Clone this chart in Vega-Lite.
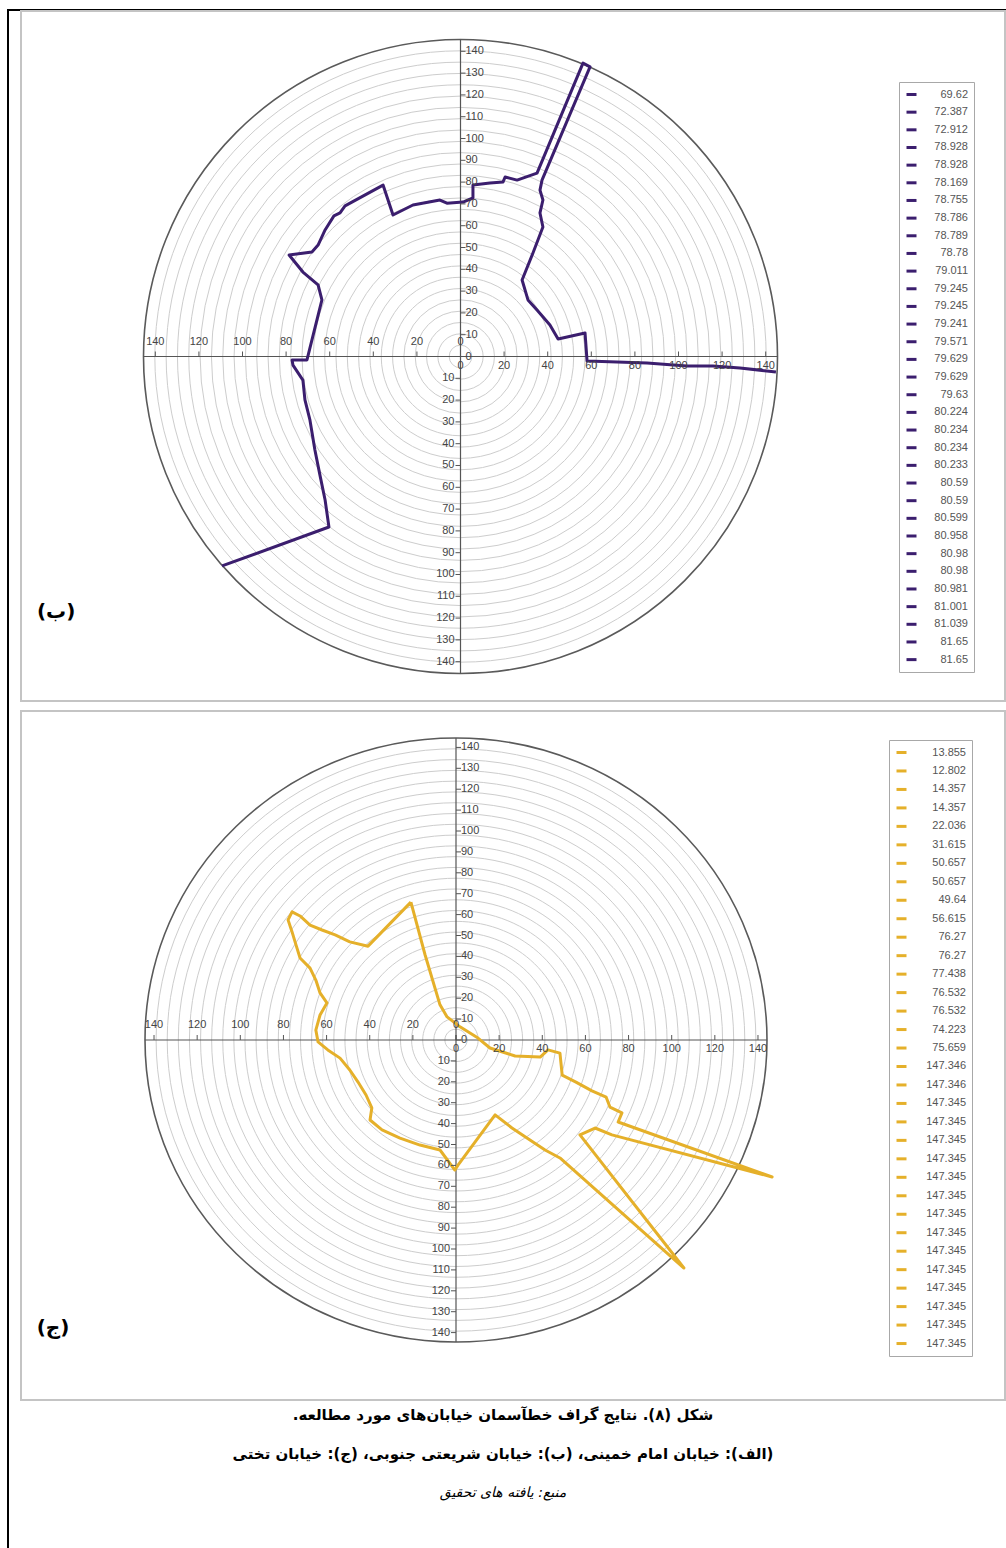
{
  "$schema": "https://vega.github.io/schema/vega-lite/v6.json",
  "padding": {"left": 7, "top": 9, "right": 0, "bottom": 0},
  "background": "#ffffff",
  "bounds": "flush",
  "spacing": 0,
  "config": {"view": {"stroke": null}},
  "datasets": {
    "rings": [{"r":5},{"r":10},{"r":15},{"r":20},{"r":25},{"r":30},{"r":35},{"r":40},{"r":45},{"r":50},{"r":55},{"r":60},{"r":65},{"r":70},{"r":75},{"r":80},{"r":85},{"r":90},{"r":95},{"r":100},{"r":105},{"r":110},{"r":115},{"r":120},{"r":125},{"r":130},{"r":135},{"r":140}],
    "labels": [
      {"g":"hl","v":-140,"t":"140"},{"g":"hl","v":-120,"t":"120"},{"g":"hl","v":-100,"t":"100"},{"g":"hl","v":-80,"t":"80"},{"g":"hl","v":-60,"t":"60"},{"g":"hl","v":-40,"t":"40"},{"g":"hl","v":-20,"t":"20"},{"g":"hl","v":0,"t":"0"},
      {"g":"hr","v":0,"t":"0"},{"g":"hr","v":20,"t":"20"},{"g":"hr","v":40,"t":"40"},{"g":"hr","v":60,"t":"60"},{"g":"hr","v":80,"t":"80"},{"g":"hr","v":100,"t":"100"},{"g":"hr","v":120,"t":"120"},{"g":"hr","v":140,"t":"140"},
      {"g":"vu","v":0,"t":"0"},{"g":"vu","v":10,"t":"10"},{"g":"vu","v":20,"t":"20"},{"g":"vu","v":30,"t":"30"},{"g":"vu","v":40,"t":"40"},{"g":"vu","v":50,"t":"50"},{"g":"vu","v":60,"t":"60"},{"g":"vu","v":70,"t":"70"},{"g":"vu","v":80,"t":"80"},{"g":"vu","v":90,"t":"90"},{"g":"vu","v":100,"t":"100"},{"g":"vu","v":110,"t":"110"},{"g":"vu","v":120,"t":"120"},{"g":"vu","v":130,"t":"130"},{"g":"vu","v":140,"t":"140"},
      {"g":"vl","v":-10,"t":"10"},{"g":"vl","v":-20,"t":"20"},{"g":"vl","v":-30,"t":"30"},{"g":"vl","v":-40,"t":"40"},{"g":"vl","v":-50,"t":"50"},{"g":"vl","v":-60,"t":"60"},{"g":"vl","v":-70,"t":"70"},{"g":"vl","v":-80,"t":"80"},{"g":"vl","v":-90,"t":"90"},{"g":"vl","v":-100,"t":"100"},{"g":"vl","v":-110,"t":"110"},{"g":"vl","v":-120,"t":"120"},{"g":"vl","v":-130,"t":"130"},{"g":"vl","v":-140,"t":"140"}
    ],
    "axes": [{"x1":-140,"x2":140,"y1":0,"y2":0},{"x1":0,"x2":0,"y1":-140,"y2":140}],
    "topLine": [
      {"i":1,"x":139.3,"y":-6.8},{"i":2,"x":123.4,"y":-5.1},{"i":3,"x":111.5,"y":-4.2},{"i":4,"x":100.0,"y":-4.2},{"i":5,"x":82.4,"y":-2.9},{"i":6,"x":55.9,"y":-2.0},{"i":7,"x":55.0,"y":10.4},{"i":8,"x":43.1,"y":7.7},{"i":9,"x":39.5,"y":13.9},{"i":10,"x":33.8,"y":20.5},{"i":11,"x":29.8,"y":25.0},{"i":12,"x":27.2,"y":33.8},{"i":13,"x":32.0,"y":45.7},{"i":14,"x":36.4,"y":57.2},{"i":15,"x":35.1,"y":63.4},{"i":16,"x":36.4,"y":69.1},{"i":17,"x":35.1,"y":73.5},{"i":18,"x":36.0,"y":77.9},{"i":19,"x":57.2,"y":127.9},{"i":20,"x":54.1,"y":129.6},{"i":21,"x":33.8,"y":81.0},{"i":22,"x":25.0,"y":77.9},{"i":23,"x":19.7,"y":79.3},{"i":24,"x":18.8,"y":77.1},{"i":25,"x":13.0,"y":76.6},{"i":26,"x":5.5,"y":75.7},{"i":27,"x":5.5,"y":70.0},{"i":28,"x":1.1,"y":68.2},{"i":29,"x":-6.0,"y":67.7},{"i":30,"x":-9.1,"y":69.1},{"i":31,"x":-21.0,"y":66.9},{"i":32,"x":-29.8,"y":62.5},{"i":33,"x":-34.2,"y":75.7},{"i":34,"x":-51.0,"y":66.5},{"i":35,"x":-53.2,"y":63.4},{"i":36,"x":-55.9,"y":62.1},{"i":37,"x":-59.8,"y":55.9},{"i":38,"x":-62.9,"y":49.2},{"i":39,"x":-65.6,"y":46.2},{"i":40,"x":-75.7,"y":44.8},{"i":41,"x":-69.6,"y":37.3},{"i":42,"x":-62.9,"y":31.6},{"i":43,"x":-61.2,"y":25.0},{"i":44,"x":-67.8,"y":-1.5},{"i":45,"x":-74.4,"y":-1.5},{"i":46,"x":-74.0,"y":-3.8},{"i":47,"x":-69.6,"y":-10.4},{"i":48,"x":-68.7,"y":-19.2},{"i":49,"x":-66.5,"y":-28.0},{"i":50,"x":-64.3,"y":-41.3},{"i":51,"x":-62.1,"y":-52.3},{"i":52,"x":-59.8,"y":-63.4},{"i":53,"x":-58.1,"y":-75.3},{"i":54,"x":-105.3,"y":-92.5}
    ],
    "botLine": [
      {"i":1,"x":-20.3,"y":63.9},{"i":2,"x":-13.9,"y":39.4},{"i":3,"x":-7.2,"y":16.3},{"i":4,"x":-4.0,"y":10.7},{"i":5,"x":1.8,"y":6.1},{"i":6,"x":9.9,"y":0.9},{"i":7,"x":15.3,"y":-3.7},{"i":8,"x":26.6,"y":-7.4},{"i":9,"x":37.9,"y":-7.9},{"i":10,"x":41.4,"y":-4.6},{"i":11,"x":46.8,"y":-6.1},{"i":12,"x":47.8,"y":-16.3},{"i":13,"x":54.0,"y":-19.5},{"i":14,"x":61.2,"y":-23.6},{"i":15,"x":67.6,"y":-26.5},{"i":16,"x":69.3,"y":-31.1},{"i":17,"x":74.7,"y":-33.8},{"i":18,"x":73.0,"y":-38.0},{"i":19,"x":142.3,"y":-63.5},{"i":20,"x":70.2,"y":-44.0},{"i":21,"x":62.6,"y":-40.8},{"i":22,"x":55.8,"y":-44.0},{"i":23,"x":102.6,"y":-105.7},{"i":24,"x":46.8,"y":-54.7},{"i":25,"x":40.1,"y":-51.0},{"i":26,"x":33.3,"y":-46.4},{"i":27,"x":25.2,"y":-40.8},{"i":28,"x":17.6,"y":-34.7},{"i":29,"x":0.9,"y":-58.0},{"i":30,"x":-0.5,"y":-60.3},{"i":31,"x":-7.2,"y":-51.0},{"i":32,"x":-16.2,"y":-48.7},{"i":33,"x":-25.2,"y":-45.5},{"i":34,"x":-33.3,"y":-41.7},{"i":35,"x":-38.7,"y":-37.1},{"i":36,"x":-37.9,"y":-31.5},{"i":37,"x":-40.5,"y":-25.5},{"i":38,"x":-44.1,"y":-19.5},{"i":39,"x":-47.8,"y":-13.9},{"i":40,"x":-52.2,"y":-8.4},{"i":41,"x":-57.7,"y":-4.6},{"i":42,"x":-62.1,"y":-0.9},{"i":43,"x":-63.1,"y":4.6},{"i":44,"x":-61.2,"y":11.6},{"i":45,"x":-58.1,"y":17.2},{"i":46,"x":-61.2,"y":21.8},{"i":47,"x":-63.1,"y":27.8},{"i":48,"x":-65.7,"y":33.3},{"i":49,"x":-70.2,"y":38.0},{"i":50,"x":-72.0,"y":44.0},{"i":51,"x":-73.8,"y":50.1},{"i":52,"x":-75.6,"y":55.7},{"i":53,"x":-73.8,"y":59.4},{"i":54,"x":-70.2,"y":57.5},{"i":55,"x":-65.7,"y":53.3},{"i":56,"x":-60.3,"y":51.0},{"i":57,"x":-54.4,"y":48.7},{"i":58,"x":-47.8,"y":45.5},{"i":59,"x":-39.6,"y":43.5},{"i":60,"x":-20.3,"y":63.9}
    ],
    "topLegend": [{"k":"01|69.62"},{"k":"02|72.387"},{"k":"03|72.912"},{"k":"04|78.928"},{"k":"05|78.928"},{"k":"06|78.169"},{"k":"07|78.755"},{"k":"08|78.786"},{"k":"09|78.789"},{"k":"10|78.78"},{"k":"11|79.011"},{"k":"12|79.245"},{"k":"13|79.245"},{"k":"14|79.241"},{"k":"15|79.571"},{"k":"16|79.629"},{"k":"17|79.629"},{"k":"18|79.63"},{"k":"19|80.224"},{"k":"20|80.234"},{"k":"21|80.234"},{"k":"22|80.233"},{"k":"23|80.59"},{"k":"24|80.59"},{"k":"25|80.599"},{"k":"26|80.958"},{"k":"27|80.98"},{"k":"28|80.98"},{"k":"29|80.981"},{"k":"30|81.001"},{"k":"31|81.039"},{"k":"32|81.65"},{"k":"33|81.65"}],
    "botLegend": [{"k":"01|13.855"},{"k":"02|12.802"},{"k":"03|14.357"},{"k":"04|14.357"},{"k":"05|22.036"},{"k":"06|31.615"},{"k":"07|50.657"},{"k":"08|50.657"},{"k":"09|49.64"},{"k":"10|56.615"},{"k":"11|76.27"},{"k":"12|76.27"},{"k":"13|77.438"},{"k":"14|76.532"},{"k":"15|76.532"},{"k":"16|74.223"},{"k":"17|75.659"},{"k":"18|147.346"},{"k":"19|147.346"},{"k":"20|147.345"},{"k":"21|147.345"},{"k":"22|147.345"},{"k":"23|147.345"},{"k":"24|147.345"},{"k":"25|147.345"},{"k":"26|147.345"},{"k":"27|147.345"},{"k":"28|147.345"},{"k":"29|147.345"},{"k":"30|147.345"},{"k":"31|147.345"},{"k":"32|147.345"},{"k":"33|147.345"}]
  },
  "vconcat": [
    {"width": 999, "height": 2, "data": {"values": [{}]}, "mark": {"type": "rect", "color": "#000000"}},
    {
      "spacing": 12,
      "bounds": "flush",
      "hconcat": [
        {"width": 2, "height": 1540, "data": {"values": [{}]}, "mark": {"type": "rect", "color": "#000000"}},
        {
          "spacing": 10,
          "bounds": "flush",
          "resolve": {"scale": {"color": "independent", "size": "independent"}, "legend": {"color": "independent", "size": "independent"}},
          "vconcat": [
            {
              "width": 984, "height": 690,
              "view": {"stroke": "#c4c4c4", "strokeWidth": 2},
              "resolve": {"scale": {"x": "independent", "y": "independent"}},
              "layer": [
                {
                  "layer": [
                    {"data": {"name": "rings"}, "mark": {"type": "point", "filled": false, "opacity": 1},
                     "encoding": {
                       "x": {"datum": 0, "type": "quantitative", "scale": {"domain": [-194.1, 240.47], "nice": false, "zero": false}, "axis": null},
                       "y": {"datum": 0, "type": "quantitative", "scale": {"domain": [-152.15, 152.59], "nice": false, "zero": false}, "axis": null},
                       "size": {"field": "r", "type": "quantitative", "scale": {"type": "pow", "exponent": 2, "domain": [0, 140], "range": [0, 401956]}, "legend": null},
                       "stroke": {"condition": {"test": "datum.r >= 140", "value": "#5a5a5a"}, "value": "#cdcdcd"},
                       "strokeWidth": {"condition": {"test": "datum.r >= 140", "value": 1.6}, "value": 1}
                     }},
                    {"data": {"name": "axes"}, "mark": {"type": "rule", "color": "#555555", "strokeWidth": 1.2},
                     "encoding": {
                       "x": {"field": "x1", "type": "quantitative", "scale": {"domain": [-194.1, 240.47], "nice": false, "zero": false}, "axis": null},
                       "x2": {"field": "x2"},
                       "y": {"field": "y1", "type": "quantitative", "scale": {"domain": [-152.15, 152.59], "nice": false, "zero": false}, "axis": null},
                       "y2": {"field": "y2"}
                     }},
                    {"data": {"name": "topLine"}, "mark": {"type": "line", "color": "#3b1e6e", "strokeWidth": 3, "strokeJoin": "round"},
                     "encoding": {
                       "x": {"field": "x", "type": "quantitative", "scale": {"domain": [-194.1, 240.47], "nice": false, "zero": false}, "axis": null},
                       "y": {"field": "y", "type": "quantitative", "scale": {"domain": [-152.15, 152.59], "nice": false, "zero": false}, "axis": null},
                       "order": {"field": "i", "type": "quantitative"}
                     }},
                    {"data": {"name": "topLegend"}, "mark": {"type": "point", "opacity": 0},
                     "encoding": {
                       "x": {"datum": 0, "type": "quantitative", "scale": {"domain": [-194.1, 240.47], "nice": false, "zero": false}, "axis": null},
                       "y": {"datum": 0, "type": "quantitative", "scale": {"domain": [-152.15, 152.59], "nice": false, "zero": false}, "axis": null},
                       "color": {"field": "k", "type": "nominal", "scale": {"range": ["#3b1e6e"]},
                         "legend": {"title": null, "orient": "none", "legendX": 878, "legendY": 71, "direction": "vertical", "columns": 1, "padding": 6, "strokeColor": "#a8a8a8", "fillColor": "#ffffff", "symbolType": "stroke", "symbolSize": 100, "symbolStrokeWidth": 3, "symbolOpacity": 1, "symbolLimit": 60, "labelFont": "Liberation Sans", "labelFontSize": 11, "labelColor": "#555555", "labelAlign": "right", "labelOffset": 50, "rowPadding": 4.66, "labelExpr": "split(datum.label, '|')[1]"}}
                     }},
                    {"data": {"values": [{"t": "(ب)"}]}, "mark": {"type": "text", "font": "DejaVu Sans", "fontWeight": "bold", "fontSize": 20, "color": "#000000"},
                     "encoding": {
                       "x": {"datum": -178.6, "type": "quantitative", "scale": {"domain": [-194.1, 240.47], "nice": false, "zero": false}, "axis": null},
                       "y": {"datum": -112.8, "type": "quantitative", "scale": {"domain": [-152.15, 152.59], "nice": false, "zero": false}, "axis": null},
                       "text": {"field": "t"}
                     }}
                  ]
                },
                {
                  "data": {"name": "labels"},
                  "layer": [
                    {"transform": [{"filter": "datum.g === 'hl' || datum.g === 'hr'"}], "mark": {"type": "point", "shape": "M0,0V-1", "size": 100, "filled": false, "stroke": "#555555", "strokeWidth": 1, "opacity": 1},
                     "encoding": {
                       "x": {"field": "v", "type": "quantitative", "scale": {"domain": [-201.61, 249.77], "nice": false, "zero": false}, "axis": null},
                       "y": {"datum": 0, "type": "quantitative", "scale": {"domain": [-158.03, 158.49], "nice": false, "zero": false}, "axis": null}
                     }},
                    {"transform": [{"filter": "datum.g === 'vu'"}], "mark": {"type": "point", "shape": "M0,0H1", "size": 100, "filled": false, "stroke": "#555555", "strokeWidth": 1, "opacity": 1},
                     "encoding": {
                       "x": {"datum": 0, "type": "quantitative", "scale": {"domain": [-201.61, 249.77], "nice": false, "zero": false}, "axis": null},
                       "y": {"field": "v", "type": "quantitative", "scale": {"domain": [-158.03, 158.49], "nice": false, "zero": false}, "axis": null}
                     }},
                    {"transform": [{"filter": "datum.g === 'vl'"}], "mark": {"type": "point", "shape": "M0,0H-1", "size": 100, "filled": false, "stroke": "#555555", "strokeWidth": 1, "opacity": 1},
                     "encoding": {
                       "x": {"datum": 0, "type": "quantitative", "scale": {"domain": [-201.61, 249.77], "nice": false, "zero": false}, "axis": null},
                       "y": {"field": "v", "type": "quantitative", "scale": {"domain": [-158.03, 158.49], "nice": false, "zero": false}, "axis": null}
                     }},
                    {"transform": [{"filter": "datum.g === 'hl'"}], "mark": {"type": "text", "font": "Liberation Sans", "fontSize": 11, "color": "#444444", "dy": -15},
                     "encoding": {
                       "x": {"field": "v", "type": "quantitative", "scale": {"domain": [-201.61, 249.77], "nice": false, "zero": false}, "axis": null},
                       "y": {"datum": 0, "type": "quantitative", "scale": {"domain": [-158.03, 158.49], "nice": false, "zero": false}, "axis": null},
                       "text": {"field": "t"}
                     }},
                    {"transform": [{"filter": "datum.g === 'hr'"}], "mark": {"type": "text", "font": "Liberation Sans", "fontSize": 11, "color": "#444444", "dy": 9},
                     "encoding": {
                       "x": {"field": "v", "type": "quantitative", "scale": {"domain": [-201.61, 249.77], "nice": false, "zero": false}, "axis": null},
                       "y": {"datum": 0, "type": "quantitative", "scale": {"domain": [-158.03, 158.49], "nice": false, "zero": false}, "axis": null},
                       "text": {"field": "t"}
                     }},
                    {"transform": [{"filter": "datum.g === 'vu'"}], "mark": {"type": "text", "font": "Liberation Sans", "fontSize": 11, "color": "#444444", "align": "left", "dx": 5},
                     "encoding": {
                       "x": {"datum": 0, "type": "quantitative", "scale": {"domain": [-201.61, 249.77], "nice": false, "zero": false}, "axis": null},
                       "y": {"field": "v", "type": "quantitative", "scale": {"domain": [-158.03, 158.49], "nice": false, "zero": false}, "axis": null},
                       "text": {"field": "t"}
                     }},
                    {"transform": [{"filter": "datum.g === 'vl'"}], "mark": {"type": "text", "font": "Liberation Sans", "fontSize": 11, "color": "#444444", "align": "right", "dx": -6},
                     "encoding": {
                       "x": {"datum": 0, "type": "quantitative", "scale": {"domain": [-201.61, 249.77], "nice": false, "zero": false}, "axis": null},
                       "y": {"field": "v", "type": "quantitative", "scale": {"domain": [-158.03, 158.49], "nice": false, "zero": false}, "axis": null},
                       "text": {"field": "t"}
                     }}
                  ]
                }
              ]
            },
            {
              "width": 984, "height": 689,
              "view": {"stroke": "#c4c4c4", "strokeWidth": 2},
              "resolve": {"scale": {"x": "independent", "y": "independent"}},
              "layer": [
                {
                  "layer": [
                    {"data": {"name": "rings"}, "mark": {"type": "point", "filled": false, "opacity": 1, "shape": "M-1,0A1,0.971,0,1,0,1,0A1,0.971,0,1,0,-1,0"},
                     "encoding": {
                       "x": {"datum": 0, "type": "quantitative", "scale": {"domain": [-195.82, 247.14], "nice": false, "zero": false}, "axis": null},
                       "y": {"datum": 0, "type": "quantitative", "scale": {"domain": [-166.89, 152.52], "nice": false, "zero": false}, "axis": null},
                       "size": {"field": "r", "type": "quantitative", "scale": {"type": "pow", "exponent": 2, "domain": [0, 140], "range": [0, 386884]}, "legend": null},
                       "stroke": {"condition": {"test": "datum.r >= 140", "value": "#5a5a5a"}, "value": "#cdcdcd"},
                       "strokeWidth": {"condition": {"test": "datum.r >= 140", "value": 1.6}, "value": 1}
                     }},
                    {"data": {"name": "axes"}, "mark": {"type": "rule", "color": "#555555", "strokeWidth": 1.2},
                     "encoding": {
                       "x": {"field": "x1", "type": "quantitative", "scale": {"domain": [-195.82, 247.14], "nice": false, "zero": false}, "axis": null},
                       "x2": {"field": "x2"},
                       "y": {"field": "y1", "type": "quantitative", "scale": {"domain": [-166.89, 152.52], "nice": false, "zero": false}, "axis": null},
                       "y2": {"field": "y2"}
                     }},
                    {"data": {"name": "botLine"}, "mark": {"type": "line", "color": "#e5b02a", "strokeWidth": 3, "strokeJoin": "round"},
                     "encoding": {
                       "x": {"field": "x", "type": "quantitative", "scale": {"domain": [-195.82, 247.14], "nice": false, "zero": false}, "axis": null},
                       "y": {"field": "y", "type": "quantitative", "scale": {"domain": [-166.89, 152.52], "nice": false, "zero": false}, "axis": null},
                       "order": {"field": "i", "type": "quantitative"}
                     }},
                    {"data": {"name": "botLegend"}, "mark": {"type": "point", "opacity": 0},
                     "encoding": {
                       "x": {"datum": 0, "type": "quantitative", "scale": {"domain": [-195.82, 247.14], "nice": false, "zero": false}, "axis": null},
                       "y": {"datum": 0, "type": "quantitative", "scale": {"domain": [-166.89, 152.52], "nice": false, "zero": false}, "axis": null},
                       "color": {"field": "k", "type": "nominal", "scale": {"range": ["#e5b02a"]},
                         "legend": {"title": null, "orient": "none", "legendX": 868, "legendY": 29, "direction": "vertical", "columns": 1, "padding": 6, "strokeColor": "#a8a8a8", "fillColor": "#ffffff", "symbolType": "stroke", "symbolSize": 100, "symbolStrokeWidth": 3, "symbolOpacity": 1, "symbolLimit": 60, "labelFont": "Liberation Sans", "labelFontSize": 11, "labelColor": "#555555", "labelAlign": "right", "labelOffset": 58, "rowPadding": 5.47, "labelExpr": "split(datum.label, '|')[1]"}}
                     }},
                    {"data": {"values": [{"t": "(ج)"}]}, "mark": {"type": "text", "font": "DejaVu Sans", "fontWeight": "bold", "fontSize": 20, "color": "#000000"},
                     "encoding": {
                       "x": {"datum": -181.4, "type": "quantitative", "scale": {"domain": [-195.82, 247.14], "nice": false, "zero": false}, "axis": null},
                       "y": {"datum": -133.5, "type": "quantitative", "scale": {"domain": [-166.89, 152.52], "nice": false, "zero": false}, "axis": null},
                       "text": {"field": "t"}
                     }}
                  ]
                },
                {
                  "data": {"name": "labels"},
                  "layer": [
                    {"transform": [{"filter": "datum.g === 'hl' || datum.g === 'hr'"}], "mark": {"type": "point", "shape": "M0,0V-1", "size": 100, "filled": false, "stroke": "#555555", "strokeWidth": 1, "opacity": 1},
                     "encoding": {
                       "x": {"field": "v", "type": "quantitative", "scale": {"domain": [-201.67, 254.52], "nice": false, "zero": false}, "axis": null},
                       "y": {"datum": 0, "type": "quantitative", "scale": {"domain": [-172.25, 157.42], "nice": false, "zero": false}, "axis": null}
                     }},
                    {"transform": [{"filter": "datum.g === 'vu'"}], "mark": {"type": "point", "shape": "M0,0H1", "size": 100, "filled": false, "stroke": "#555555", "strokeWidth": 1, "opacity": 1},
                     "encoding": {
                       "x": {"datum": 0, "type": "quantitative", "scale": {"domain": [-201.67, 254.52], "nice": false, "zero": false}, "axis": null},
                       "y": {"field": "v", "type": "quantitative", "scale": {"domain": [-172.25, 157.42], "nice": false, "zero": false}, "axis": null}
                     }},
                    {"transform": [{"filter": "datum.g === 'vl'"}], "mark": {"type": "point", "shape": "M0,0H-1", "size": 100, "filled": false, "stroke": "#555555", "strokeWidth": 1, "opacity": 1},
                     "encoding": {
                       "x": {"datum": 0, "type": "quantitative", "scale": {"domain": [-201.67, 254.52], "nice": false, "zero": false}, "axis": null},
                       "y": {"field": "v", "type": "quantitative", "scale": {"domain": [-172.25, 157.42], "nice": false, "zero": false}, "axis": null}
                     }},
                    {"transform": [{"filter": "datum.g === 'hl'"}], "mark": {"type": "text", "font": "Liberation Sans", "fontSize": 11, "color": "#444444", "dy": -15},
                     "encoding": {
                       "x": {"field": "v", "type": "quantitative", "scale": {"domain": [-201.67, 254.52], "nice": false, "zero": false}, "axis": null},
                       "y": {"datum": 0, "type": "quantitative", "scale": {"domain": [-172.25, 157.42], "nice": false, "zero": false}, "axis": null},
                       "text": {"field": "t"}
                     }},
                    {"transform": [{"filter": "datum.g === 'hr'"}], "mark": {"type": "text", "font": "Liberation Sans", "fontSize": 11, "color": "#444444", "dy": 9},
                     "encoding": {
                       "x": {"field": "v", "type": "quantitative", "scale": {"domain": [-201.67, 254.52], "nice": false, "zero": false}, "axis": null},
                       "y": {"datum": 0, "type": "quantitative", "scale": {"domain": [-172.25, 157.42], "nice": false, "zero": false}, "axis": null},
                       "text": {"field": "t"}
                     }},
                    {"transform": [{"filter": "datum.g === 'vu'"}], "mark": {"type": "text", "font": "Liberation Sans", "fontSize": 11, "color": "#444444", "align": "left", "dx": 5},
                     "encoding": {
                       "x": {"datum": 0, "type": "quantitative", "scale": {"domain": [-201.67, 254.52], "nice": false, "zero": false}, "axis": null},
                       "y": {"field": "v", "type": "quantitative", "scale": {"domain": [-172.25, 157.42], "nice": false, "zero": false}, "axis": null},
                       "text": {"field": "t"}
                     }},
                    {"transform": [{"filter": "datum.g === 'vl'"}], "mark": {"type": "text", "font": "Liberation Sans", "fontSize": 11, "color": "#444444", "align": "right", "dx": -6},
                     "encoding": {
                       "x": {"datum": 0, "type": "quantitative", "scale": {"domain": [-201.67, 254.52], "nice": false, "zero": false}, "axis": null},
                       "y": {"field": "v", "type": "quantitative", "scale": {"domain": [-172.25, 157.42], "nice": false, "zero": false}, "axis": null},
                       "text": {"field": "t"}
                     }}
                  ]
                }
              ]
            },
            {
              "width": 984, "height": 138,
              "data": {"values": [
                {"row": 1, "w": "b", "t": "\u202bشکل (۸). نتایج گراف خطآسمان خیابان‌های مورد مطالعه.\u202c"},
                {"row": 2, "w": "b", "t": "\u202b(الف): خیابان امام خمینی، (ب): خیابان شریعتی جنوبی، (ج): خیابان تختی\u202c"},
                {"row": 3, "w": "i", "t": "\u202bمنبع: یافته های تحقیق\u202c"}
              ]},
              "layer": [
                {"transform": [{"filter": "datum.w === 'b'"}], "mark": {"type": "text", "font": "DejaVu Sans", "fontWeight": "bold", "fontSize": 15, "color": "#000000", "align": "center"},
                 "encoding": {
                   "x": {"datum": 482, "type": "quantitative", "scale": {"domain": [0, 984], "nice": false, "zero": false}, "axis": null},
                   "y": {"field": "row", "type": "quantitative", "scale": {"domain": [0.8684, 4.4], "nice": false, "zero": false, "reverse": true}, "axis": null},
                   "text": {"field": "t"}
                 }},
                {"transform": [{"filter": "datum.w === 'i'"}], "mark": {"type": "text", "font": "DejaVu Sans", "fontStyle": "italic", "fontSize": 14, "color": "#000000", "align": "center"},
                 "encoding": {
                   "x": {"datum": 482, "type": "quantitative", "scale": {"domain": [0, 984], "nice": false, "zero": false}, "axis": null},
                   "y": {"field": "row", "type": "quantitative", "scale": {"domain": [0.8684, 4.4], "nice": false, "zero": false, "reverse": true}, "axis": null},
                   "text": {"field": "t"}
                 }}
              ]
            }
          ]
        }
      ]
    }
  ]
}
